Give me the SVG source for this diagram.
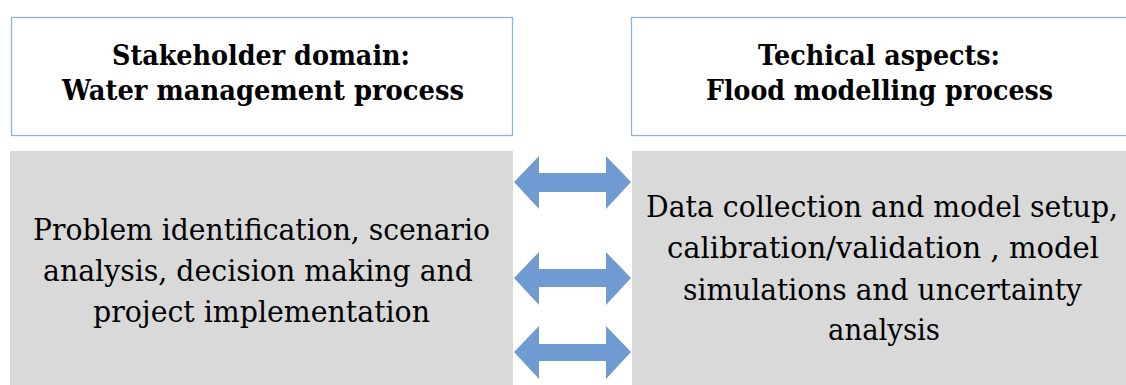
<svg xmlns="http://www.w3.org/2000/svg" width="1126" height="385" viewBox="0 0 1126 385">
<style>
.hdr{fill:#ffffff;stroke:#8db3e2;stroke-width:1.3}
.body{fill:#d9d9d9}
text{font-family:'DejaVu Serif',serif;fill:#000;text-anchor:middle}
.b{font-weight:bold;font-size:28px}
.r{font-size:30px}
.arr{fill:#6f9bd2}
</style>
<rect width="1126" height="385" fill="#ffffff"/>
<g id="stakeholder-header">
<rect class="hdr" x="11.5" y="17.5" width="501" height="118"/>
<text class="b" x="261" y="65" textLength="298" lengthAdjust="spacingAndGlyphs">Stakeholder domain:</text>
<text class="b" x="263" y="100" textLength="402" lengthAdjust="spacingAndGlyphs">Water management process</text>
</g>
<g id="technical-header">
<rect class="hdr" x="631.5" y="17.5" width="500" height="118"/>
<text class="b" x="879" y="65" textLength="242" lengthAdjust="spacingAndGlyphs">Techical aspects:</text>
<text class="b" x="879.5" y="100" textLength="347" lengthAdjust="spacingAndGlyphs">Flood modelling process</text>
</g>
<g id="stakeholder-body">
<rect class="body" x="10" y="151" width="503" height="234"/>
<text class="r" x="261.5" y="240" textLength="457" lengthAdjust="spacingAndGlyphs">Problem identification, scenario</text>
<text class="r" x="258" y="281" textLength="430" lengthAdjust="spacingAndGlyphs">analysis, decision making and</text>
<text class="r" x="261.5" y="322" textLength="337" lengthAdjust="spacingAndGlyphs">project implementation</text>
</g>
<g id="technical-body">
<rect class="body" x="632" y="151" width="494" height="234"/>
<text class="r" x="882" y="217" textLength="472" lengthAdjust="spacingAndGlyphs">Data collection and model setup,</text>
<text class="r" x="883" y="258" textLength="432" lengthAdjust="spacingAndGlyphs">calibration/validation , model</text>
<text class="r" x="882.5" y="300" textLength="399" lengthAdjust="spacingAndGlyphs">simulations and uncertainty</text>
<text class="r" x="884" y="340" textLength="112" lengthAdjust="spacingAndGlyphs">analysis</text>
</g>
<g id="connectors">
<polygon class="arr" points="514,182 539,156 539,173 606,173 606,156 631,182 606,209 606,192 539,192 539,209"/>
<polygon class="arr" points="514,278 539,252 539,269 606,269 606,252 631,278 606,305 606,287 539,287 539,305"/>
<polygon class="arr" points="514,352 539,326 539,344 606,344 606,326 631,352 606,379 606,361 539,361 539,379"/>
</g>
</svg>
